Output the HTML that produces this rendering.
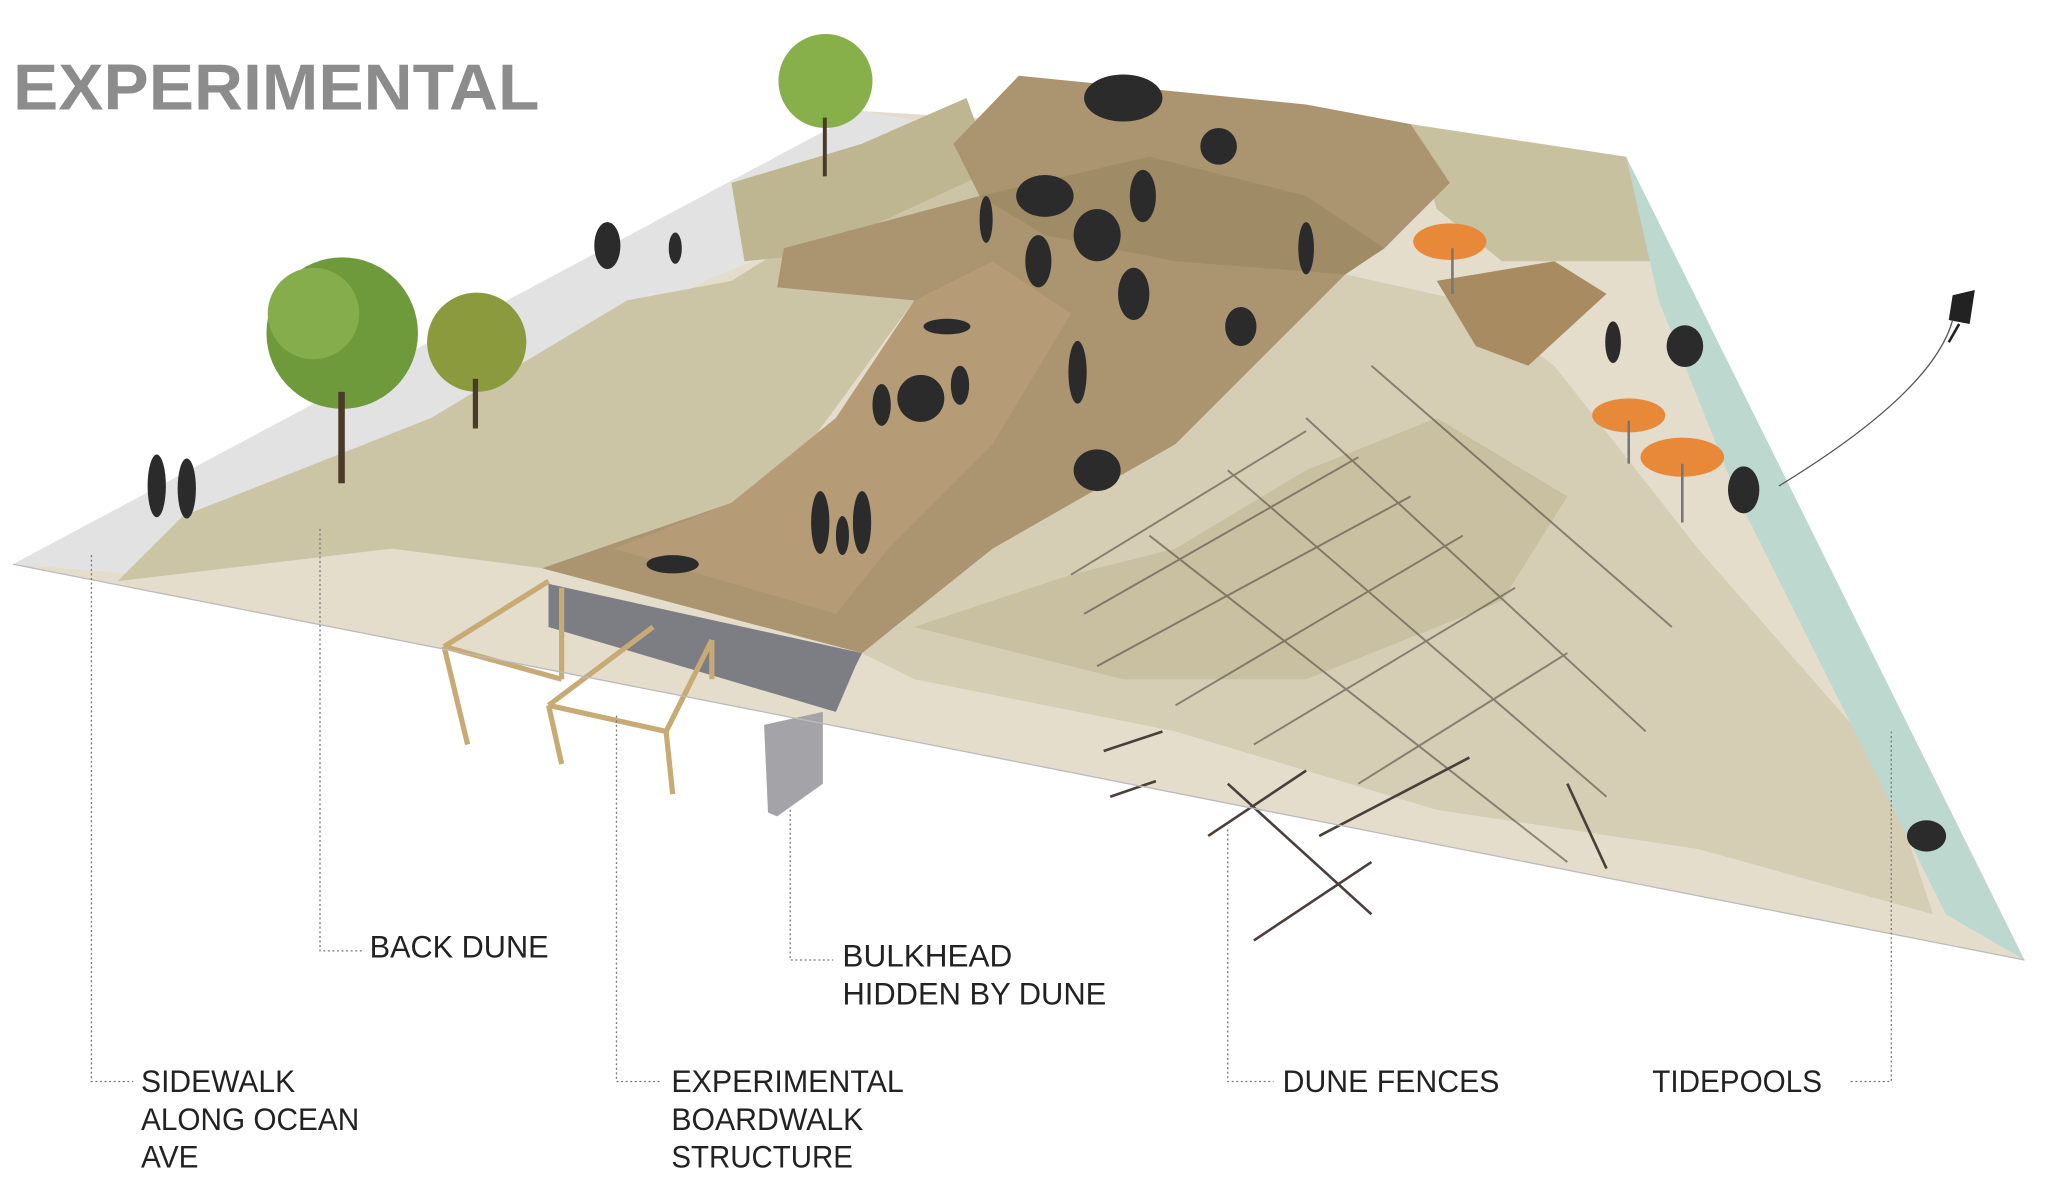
<!DOCTYPE html>
<html><head><meta charset="utf-8"><style>
html,body{margin:0;padding:0;background:#fff;}
svg{display:block}
.lb{font-family:"Liberation Sans",sans-serif;font-size:24px;fill:#222;}
.ld{stroke:#777;stroke-width:1;stroke-dasharray:1.5 2;fill:none}
</style></head><body>
<svg width="2048" height="1203" viewBox="0 0 1568 921" xmlns="http://www.w3.org/2000/svg">
<rect width="1568" height="921" fill="#fff"/>
<text x="10" y="84" font-family="Liberation Sans,sans-serif" font-weight="bold" font-size="50" fill="#8c8c8c" textLength="403" lengthAdjust="spacingAndGlyphs">EXPERIMENTAL</text>
<!-- ground -->
<polygon points="10,432 660,85 1245,120 1550,735" fill="#e4ddcc"/>
<!-- sidewalk -->
<polygon points="10,432 660,85 700,92 600,190 540,215 110,440" fill="#e2e2e2"/>
<!-- back dune -->
<polygon points="90,445 140,395 330,320 480,230 560,215 600,190 660,110 740,75 730,110 750,150 600,190 595,220 700,230 590,380 415,435 300,420" fill="#cbc5a6"/>
<polygon points="560,140 660,110 740,75 760,130 620,195 570,200" fill="#bdb690"/>
<!-- mid dune / fences area -->
<polygon points="660,500 760,420 900,340 1030,210 1120,230 1190,280 1300,420 1440,580 1480,700 1300,650 1100,620 900,560 700,520" fill="#d5cdb4"/>
<polygon points="700,480 820,440 900,420 1000,360 1100,320 1200,380 1150,460 1000,520 860,520" fill="#bfb894" opacity="0.6"/>
<polygon points="1080,95 1245,120 1270,200 1150,200 1100,160" fill="#c8c19f"/>
<!-- water -->
<polygon points="1245,120 1550,735 1490,700 1420,560 1330,380 1270,230" fill="#bcd8cf"/>
<!-- boardwalk -->
<polygon points="415,435 660,500 760,420 900,340 1030,210 1060,190 1110,140 1080,95 1000,80 780,58 730,110 750,150 600,190 595,220 700,230 640,320 560,385" fill="#ab9470"/>
<polygon points="470,420 560,385 640,320 700,230 760,200 820,240 760,340 680,420 640,470" fill="#b9a07a" opacity="0.7"/>
<polygon points="750,150 880,120 1000,150 1060,190 1030,210 900,200 800,180" fill="#9a8560" opacity="0.6"/>
<polygon points="1100,215 1190,200 1230,225 1170,280 1130,265" fill="#a88b61"/>
<!-- structure under boardwalk -->
<polygon points="420,447 640,510 640,545 420,480" fill="#8f8f96"/>
<polygon points="420,447 420,480 640,545 655,510 660,500" fill="#7d7d84"/>
<g stroke="#c8aa74" stroke-width="4" fill="none">
<line x1="340" y1="495" x2="420" y2="445"/><line x1="340" y1="495" x2="358" y2="570"/>
<line x1="340" y1="495" x2="430" y2="520"/><line x1="420" y1="540" x2="430" y2="585"/>
<line x1="420" y1="540" x2="510" y2="560"/><line x1="510" y1="560" x2="515" y2="608"/>
<line x1="420" y1="540" x2="500" y2="480"/><line x1="510" y1="560" x2="545" y2="490"/>
<line x1="430" y1="520" x2="430" y2="450"/><line x1="545" y1="490" x2="545" y2="520"/>
</g>
<polygon points="585,555 630,545 630,600 595,625 588,622" fill="#a4a4a8"/>
<!-- fences -->
<g stroke="#4a3f3a" stroke-width="2">
<path d="M845,575 L890,560 M850,610 L885,598" />
<line x1="925" y1="640" x2="1000" y2="590"/><line x1="960" y1="720" x2="1050" y2="660"/>
<line x1="940" y1="600" x2="1050" y2="700"/><line x1="1010" y1="640" x2="1125" y2="580"/>
<line x1="1200" y1="600" x2="1230" y2="665"/>
</g>
<g stroke="#4a3f3a" stroke-width="1.5" opacity="0.55" fill="none">
<path d="M820,440 L1000,330 M830,470 L1040,350 M840,510 L1080,380 M900,540 L1120,410 M960,570 L1160,450 M1040,600 L1200,500"/>
<path d="M940,360 L1230,610 M1000,320 L1260,560 M1050,280 L1280,480 M880,410 L1200,660"/>
</g>
<!-- trees -->
<circle cx="262" cy="255" r="58" fill="#6e9a3c"/><circle cx="240" cy="240" r="35" fill="#86ad4b"/>
<rect x="259" y="300" width="5" height="70" fill="#4a3a28"/>
<circle cx="365" cy="262" r="38" fill="#8a9a3c"/><rect x="362" y="290" width="4" height="38" fill="#4a3a28"/>
<circle cx="632" cy="62" r="36" fill="#88b04a"/><rect x="630" y="90" width="3" height="45" fill="#4a3a28"/>
<!-- umbrellas -->
<g fill="#e8893a"><ellipse cx="1110" cy="185" rx="28" ry="14"/><ellipse cx="1247" cy="318" rx="28" ry="13"/><ellipse cx="1288" cy="350" rx="32" ry="15"/></g>
<g stroke="#777" stroke-width="2"><line x1="1112" y1="190" x2="1112" y2="225"/><line x1="1247" y1="322" x2="1247" y2="355"/><line x1="1288" y1="355" x2="1288" y2="400"/></g>
<!-- kite -->
<polygon points="1495,226 1512,222 1508,248 1492,245" fill="#222"/>
<path d="M1495,245 Q1480,300 1362,372" stroke="#555" fill="none" stroke-width="1"/>
<path d="M1500,248 L1492,262" stroke="#222" stroke-width="2"/>
<!-- people -->
<g fill="#2b2b2b">
<ellipse cx="120" cy="372" rx="7" ry="24"/><ellipse cx="143" cy="374" rx="7" ry="23"/>
<ellipse cx="465" cy="188" rx="10" ry="18"/><ellipse cx="517" cy="190" rx="5" ry="12"/>
<ellipse cx="628" cy="400" rx="7" ry="24"/><ellipse cx="660" cy="400" rx="7" ry="24"/><ellipse cx="645" cy="410" rx="5" ry="15"/>
<ellipse cx="515" cy="432" rx="20" ry="7"/>
<ellipse cx="705" cy="305" rx="18" ry="18"/><ellipse cx="735" cy="295" rx="7" ry="15"/><ellipse cx="675" cy="310" rx="7" ry="16"/>
<ellipse cx="825" cy="285" rx="7" ry="24"/><ellipse cx="840" cy="360" rx="18" ry="16"/>
<ellipse cx="725" cy="250" rx="18" ry="6"/><ellipse cx="868" cy="225" rx="12" ry="20"/>
<ellipse cx="795" cy="200" rx="10" ry="20"/><ellipse cx="840" cy="180" rx="18" ry="20"/><ellipse cx="950" cy="250" rx="12" ry="15"/>
<ellipse cx="800" cy="150" rx="22" ry="16"/><ellipse cx="875" cy="150" rx="10" ry="20"/><ellipse cx="755" cy="168" rx="5" ry="18"/>
<ellipse cx="1000" cy="190" rx="6" ry="20"/><ellipse cx="933" cy="112" rx="14" ry="14"/>
<ellipse cx="860" cy="75" rx="30" ry="18"/>
<ellipse cx="1235" cy="262" rx="6" ry="16"/><ellipse cx="1290" cy="265" rx="14" ry="16"/>
<ellipse cx="1335" cy="375" rx="12" ry="18"/><ellipse cx="1475" cy="640" rx="15" ry="12"/>
</g>
<!-- baseline edge -->
<line x1="10" y1="432" x2="1550" y2="735" stroke="#bbb" stroke-width="1"/>
<!-- leaders -->
<path class="ld" d="M70,425 V828 H102"/>
<path class="ld" d="M245,405 V728 H278"/>
<path class="ld" d="M472,548 V828 H506"/>
<path class="ld" d="M605,620 V735 H638"/>
<path class="ld" d="M940,635 V828 H975"/>
<path class="ld" d="M1448,560 V828 H1416"/>
<!-- labels -->
<text class="lb" x="283" y="733" textLength="137" lengthAdjust="spacingAndGlyphs">BACK DUNE</text>
<text class="lb" x="645" y="740" textLength="130" lengthAdjust="spacingAndGlyphs">BULKHEAD</text>
<text class="lb" x="645" y="769" textLength="202" lengthAdjust="spacingAndGlyphs">HIDDEN BY DUNE</text>
<text class="lb" x="108" y="836" textLength="118" lengthAdjust="spacingAndGlyphs">SIDEWALK</text>
<text class="lb" x="108" y="865" textLength="167" lengthAdjust="spacingAndGlyphs">ALONG OCEAN</text>
<text class="lb" x="108" y="894" textLength="44" lengthAdjust="spacingAndGlyphs">AVE</text>
<text class="lb" x="514" y="836" textLength="178" lengthAdjust="spacingAndGlyphs">EXPERIMENTAL</text>
<text class="lb" x="514" y="865" textLength="147" lengthAdjust="spacingAndGlyphs">BOARDWALK</text>
<text class="lb" x="514" y="894" textLength="139" lengthAdjust="spacingAndGlyphs">STRUCTURE</text>
<text class="lb" x="982" y="836" textLength="166" lengthAdjust="spacingAndGlyphs">DUNE FENCES</text>
<text class="lb" x="1265" y="836" textLength="130" lengthAdjust="spacingAndGlyphs">TIDEPOOLS</text>
</svg>
</body></html>
